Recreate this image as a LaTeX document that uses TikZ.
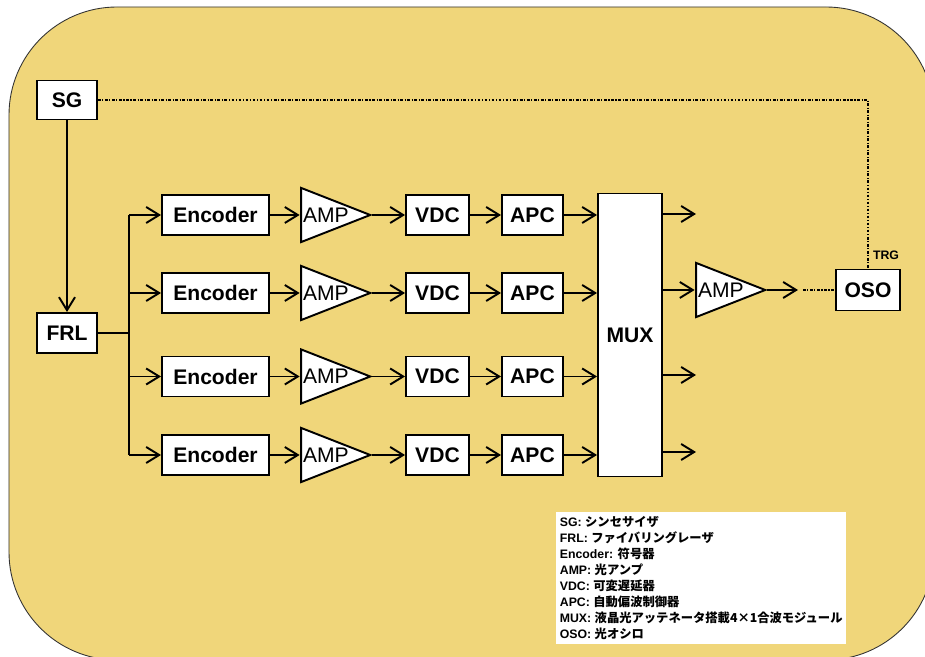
\documentclass[tikz,border=0pt]{standalone}
\usepackage{fontspec}
\setmainfont{Liberation Sans}
\newfontfamily\jpfont{Noto Sans CJK JP}
\usetikzlibrary{arrows.meta,calc}

\definecolor{bgyellow}{RGB}{240,214,122}
\newcommand{\jp}[1]{{\jpfont #1}}

\tikzset{
  blk/.style={draw, fill=white, line width=1.1pt, minimum height=0.8cm, inner sep=0pt,
    font=\fontsize{12}{14}\selectfont\bfseries},
  amp/.style={minimum width=1.44cm, minimum height=1.14cm, inner xsep=0.06cm, inner ysep=0pt,
    text width=1.32cm, align=left, font=\fontsize{12}{14}\selectfont,
    path picture={
      \draw[fill=white, line width=1.1pt]
        ($(path picture bounding box.north west)+(0.6pt,-0.8pt)$)
        -- ($(path picture bounding box.east)+(-1pt,0)$)
        -- ($(path picture bounding box.south west)+(0.6pt,0.8pt)$) -- cycle;}},
  sig/.style={line width=1.1pt, -{Straight Barb[length=2.6mm,width=3.2mm]}},
  trig/.style={line width=1.1pt, dash pattern=on 1.6pt off 0.9pt on 0.6pt off 0.9pt},
}

\begin{document}
\begin{tikzpicture}

    % --- hatter ---
    \clip (0,0) rectangle (18.5,13.14);
    \draw[fill=bgyellow, draw=black!80, line width=0.5pt, rounded corners=2.16cm]
        (0.18,-0.06) rectangle (18.68,13.0);

    % --- forras ---
    \node[blk, minimum width=1.2cm, minimum height=0.78cm] (sg) at (1.34,11.14) {SG};
    \node[blk, minimum width=1.2cm] (frl) at (1.34,6.48) {FRL};
    \draw[sig] (sg) -- (frl);

    % --- negy csatorna ---
    \foreach \i/\y in {1/8.84, 2/7.28, 3/5.61, 4/4.04} {
        \node[blk, minimum width=2.14cm] (enc\i) at (4.31,\y) {Encoder};
        \node[amp] (amp\i) at (6.72,\y) {AMP};
        \node[blk, minimum width=1.26cm] (vdc\i) at (8.75,\y) {VDC};
        \node[blk, minimum width=1.22cm] (apc\i) at (10.65,\y) {APC};
    }

    % Multiplexer
    \node[blk, minimum width=1.28cm, minimum height=5.66cm] (mux) at (12.6,6.44) {MUX};

    % FRL elagazas
    \coordinate (split) at (2.58,6.48);
    \draw[line width=1.1pt] (frl.east) -- (split);
    \draw[line width=1.1pt] (split |- enc1.west) -- (split |- enc4.west);

    \foreach \i in {1,...,4} {
        \draw[sig] (split |- enc\i.west) -- (enc\i.west);
        \draw[sig] (enc\i) -- (amp\i);
        \draw[sig] (amp\i.east) -- (vdc\i);
        \draw[sig] (vdc\i) -- (apc\i);
        \draw[sig] (apc\i) -- (apc\i -| mux.west);
    }

    % --- kimenet ---
    \node[amp] (ampo) at (14.62,7.34) {AMP};
    \node[blk, minimum width=1.28cm, minimum height=0.82cm] (oso) at (17.36,7.34) {OSO};

    \foreach \i/\y in {1/8.86, 3/5.64, 4/4.1} {
        \coordinate (out\i) at (13.92,\y);
        \draw[sig] (mux.east |- out\i) -- (out\i);
    }
    \draw[sig] (mux.east |- ampo.west) -- (ampo.west);

    \coordinate (probe) at (15.96,7.34);
    \coordinate (gap) at (16.06,7.34);
    \draw[sig] (ampo.east) -- (probe);
    \draw[trig] (gap) -- (oso.west);

    % trigger jel
    \draw[trig] (sg.east) -| (oso.north);
    \node[font=\fontsize{7}{8}\selectfont\bfseries] (trg) at (17.72,8.04) {TRG};

    % --- jelmagyarazat ---
    \node[fill=white, anchor=north west, inner xsep=2pt, inner ysep=2.5pt, align=left,
          font=\fontsize{7}{9.1}\selectfont\bfseries] (key) at (11.12,2.9)
        {SG: \jp{シンセサイザ}\\
         FRL: \jp{ファイバリングレーザ}\\
         Encoder: \jp{符号器}\\
         AMP: \jp{光アンプ}\\
         VDC: \jp{可変遅延器}\\
         APC: \jp{自動偏波制御器}\\
         MUX: \jp{液晶光アッテネータ搭載4×1合波モジュール}\\
         OSO: \jp{光オシロ}};

\end{tikzpicture}
\end{document}
